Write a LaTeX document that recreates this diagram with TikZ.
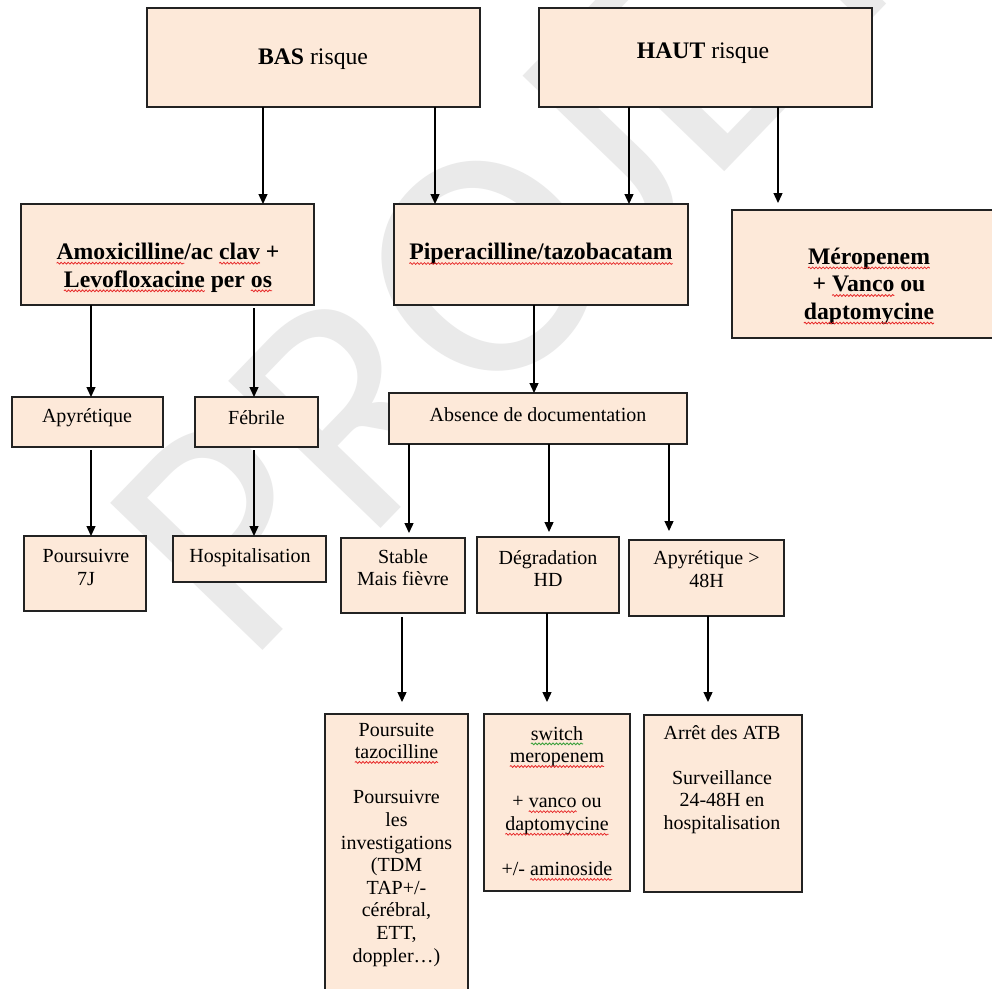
\documentclass[tikz,border=0pt]{standalone}
\usepackage{fontspec}
\setmainfont{Liberation Serif}
\newfontfamily\wmfont{Carlito}
\usetikzlibrary{arrows.meta,decorations.pathmorphing}
\definecolor{boxfill}{RGB}{253,233,217}
\definecolor{boxline}{RGB}{34,34,34}
\definecolor{wmgray}{RGB}{234,234,234}
\definecolor{spellred}{RGB}{230,40,40}
\definecolor{spellgreen}{RGB}{60,160,60}
\newcommand\wavyword[2]{\tikz[baseline=(sqw.base)]{\node[draw=none,fill=none,inner sep=0pt,outer sep=0pt,minimum width=0pt,minimum height=0pt,anchor=base,align=none] (sqw) {#2};\draw[overlay,#1,line width=0.8pt,decorate,decoration={snake,amplitude=0.9pt,segment length=3.5pt}] ([yshift=-3.8pt]sqw.base west) -- ([yshift=-3.8pt]sqw.base east);}}
\newcommand\sqr[1]{\wavyword{spellred}{#1}}
\newcommand\sqg[1]{\wavyword{spellgreen}{#1}}
\tikzset{
 box/.style={draw=boxline, line width=1.5pt, fill=boxfill, rectangle, inner sep=0pt, outer sep=0pt},
 lbl/.style={align=center, inner sep=0pt, font=\fontsize{20}{22.6}\selectfont},
 blbl/.style={align=center, inner sep=0pt, font=\fontsize{23.7}{27.6}\selectfont\bfseries},
 tlbl/.style={inner sep=0pt, font=\fontsize{23.7}{27.6}\selectfont},
 arr/.style={line width=1.3pt, -{Triangle[width=9pt,length=10pt]}},
 wm/.style={text=wmgray, font=\wmfont\fontsize{330}{330}\selectfont, inner sep=0pt}
}
\begin{document}
\begin{tikzpicture}[x=1pt,y=-1pt]
\useasboundingbox (0,0) rectangle (992,988);
\clip (0,0) rectangle (992,988);
\fill[white] (0,0) rectangle (992,988);
% watermark
\node[wm, rotate=46] (wmark) at (513,239) {PROJET};
% boxes
\node[box, minimum width=333pt, minimum height=99pt] (bas) at (313.5,57.5) {};
\node[box, minimum width=333pt, minimum height=99pt] (haut) at (705.5,57.5) {};
\node[box, minimum width=293pt, minimum height=101pt] (amox) at (167.5,254.5) {};
\node[box, minimum width=294pt, minimum height=101pt] (pip) at (541,254.5) {};
\node[box, minimum width=274pt, minimum height=128pt] (merop) at (869,274) {};
\node[box, minimum width=151pt, minimum height=50pt] (apy1) at (87.5,422) {};
\node[box, minimum width=123pt, minimum height=50pt] (feb) at (256.5,422) {};
\node[box, minimum width=298pt, minimum height=51pt] (abs) at (538,418.5) {};
\node[box, minimum width=122pt, minimum height=75pt] (p7j) at (85,573.5) {};
\node[box, minimum width=153pt, minimum height=46pt] (hosp) at (249.5,559) {};
\node[box, minimum width=124pt, minimum height=75pt] (stable) at (403,575.5) {};
\node[box, minimum width=142pt, minimum height=76pt] (degr) at (548,575) {};
\node[box, minimum width=155pt, minimum height=76pt] (apy48) at (706.5,578) {};
\node[box, minimum width=143pt, minimum height=296pt] (pours) at (396.5,862) {};
\node[box, minimum width=146pt, minimum height=177pt] (switch) at (557,802.5) {};
\node[box, minimum width=158pt, minimum height=177pt] (arret) at (723,803.5) {};
% texts
\node[tlbl] (bas-t) at (313,59) {\textbf{BAS} risque};
\node[tlbl] (haut-t) at (703,53) {\textbf{HAUT} risque};
\node[blbl] (amox-t) at (168,267.5) {\sqr{Amoxicilline}/ac \sqr{clav} +\\ \sqr{Levofloxacine} per \sqr{os}};
\node[blbl] (pip-t) at (541,254) {\sqr{Piperacilline/tazobacatam}};
\node[blbl] (merop-t) at (869,286) {\sqr{Méropenem}\\+ \sqr{Vanco} ou\\ \sqr{daptomycine}};
\node[lbl] (apy1-t) at (87,418) {Apyrétique};
\node[lbl] (feb-t) at (256.5,418) {Fébrile};
\node[lbl] (abs-t) at (538,415) {Absence de documentation};
\node[lbl] (p7j-t) at (86,567.5) {Poursuivre\\7J};
\node[lbl] (hosp-t) at (250,558) {Hospitalisation};
\node[lbl] (stable-t) at (403,567.5) {Stable\\Mais fièvre};
\node[lbl] (degr-t) at (548,568.5) {Dégradation\\HD};
\node[lbl] (apy48-t) at (706.5,569) {Apyrétique >\\48H};
\node[lbl] (pours-t) at (396.5,844.5) {Poursuite\\ \sqr{tazocilline}\\ ~\\ Poursuivre\\les\\investigations\\(TDM\\TAP+/-\\cérébral,\\ETT,\\doppler…)};
\node[lbl] (switch-t) at (557,801) {\sqg{switch}\\ \sqr{meropenem}\\ ~\\ + \sqr{vanco} ou\\ \sqr{daptomycine}\\ ~\\ +/- \sqr{aminoside}};
\node[lbl] (arret-t) at (722,779.5) {Arrêt des ATB\\ ~\\ Surveillance\\24-48H en\\hospitalisation};
% arrow columns
\coordinate (c1) at (263,0);
\coordinate (c2) at (435,0);
\coordinate (c3) at (629,0);
\coordinate (c4) at (778,0);
\coordinate (c5) at (91,0);
\coordinate (c6) at (254,0);
\coordinate (c7) at (534,0);
\coordinate (c8) at (409,0);
\coordinate (c9) at (549,0);
\coordinate (c10) at (669,0);
\coordinate (c13) at (402,0);
\coordinate (c14) at (547,0);
\coordinate (c15) at (708,0);
% arrows
\draw[arr] (bas.south -| c1) -- (amox.north -| c1);
\draw[arr] (bas.south -| c2) -- (pip.north -| c2);
\draw[arr] (haut.south -| c3) -- (pip.north -| c3);
\draw[arr, shorten >=7pt] (haut.south -| c4) -- (merop.north -| c4);
\draw[arr] (amox.south -| c5) -- (apy1.north -| c5);
\draw[arr, shorten <=3pt] (amox.south -| c6) -- (feb.north -| c6);
\draw[arr] (pip.south -| c7) -- (abs.north -| c7);
\draw[arr, shorten >=5pt] (abs.south -| c8) -- (stable.north -| c8);
\draw[arr, shorten >=5pt] (abs.south -| c9) -- (degr.north -| c9);
\draw[arr, shorten >=9pt] (abs.south -| c10) -- (apy48.north -| c10);
\draw[arr, shorten <=3pt] (apy1.south -| c5) -- (p7j.north -| c5);
\draw[arr, shorten <=3pt] (feb.south -| c6) -- (hosp.north -| c6);
\draw[arr, shorten <=4pt, shorten >=12pt] (stable.south -| c13) -- (pours.north -| c13);
\draw[arr, shorten >=12pt] (degr.south -| c14) -- (switch.north -| c14);
\draw[arr, shorten >=13pt] (apy48.south -| c15) -- (arret.north -| c15);
\end{tikzpicture}
\end{document}
